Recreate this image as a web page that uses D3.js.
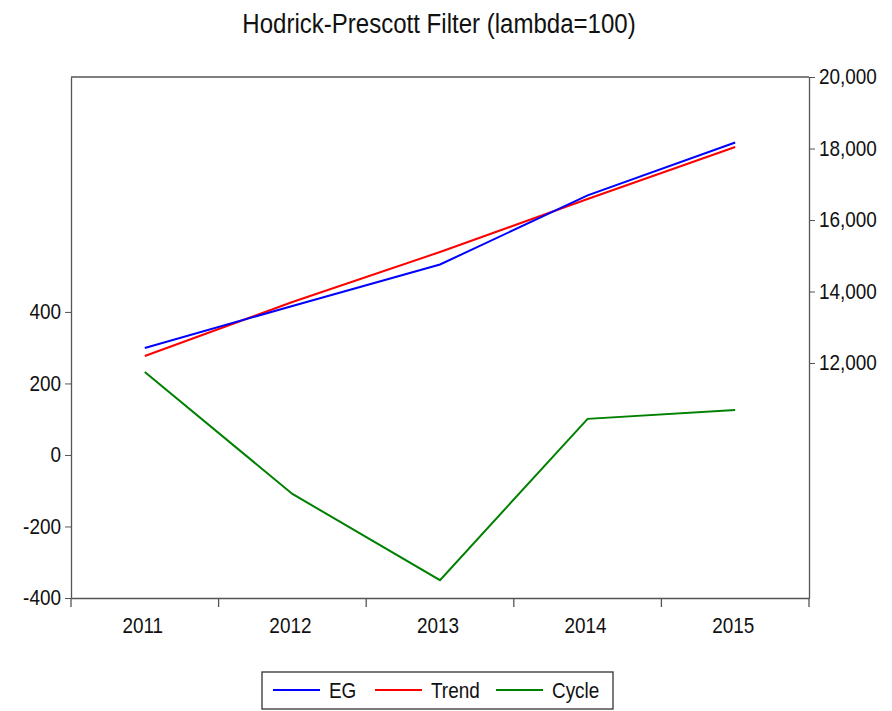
<!DOCTYPE html>
<html><head><meta charset="utf-8">
<script src="https://cdn.jsdelivr.net/npm/d3@7"></script>
<style>body{margin:0;background:#fff}svg{display:block}text{font-family:"Liberation Sans",Arial,sans-serif;fill:#111}</style>
</head><body>
<script>
const years = ["2011","2012","2013","2014","2015"];
const eg = [12420, 13597, 14755, 16688, 18168];
const trend = [12196, 13706, 15105, 16587, 18042];
const cycle = [232, -109, -350, 101, 126];
const leftTicks = [-400, -200, 0, 200, 400];
const rightTicks = [12000, 14000, 16000, 18000, 20000];
const title = "Hodrick-Prescott Filter (lambda=100)";
const legendItems = [{name:"EG",color:"#0000ff"},{name:"Trend",color:"#ff0000"},{name:"Cycle",color:"#008000"}];

const W = 892, H = 711;
const L = 71, R = 809, T = 77, B = 598;
const axisColor = "#555";
const svg = d3.select("body").append("svg").attr("width", W).attr("height", H);

const x = d3.scaleBand().domain(years).range([L, R]).padding(0);
const yL = d3.scaleLinear().domain([-400, 1057]).range([B, T]);
const yR = d3.scaleLinear().domain([5427, 20000]).range([B, T]);

// condense text horizontally like the reference
function condense(sel, k) {
  sel.each(function() {
    const w = this.getComputedTextLength();
    d3.select(this).attr("textLength", w * k).attr("lengthAdjust", "spacingAndGlyphs");
  });
}

// title
svg.append("text").attr("x", 439).attr("y", 33).attr("text-anchor", "middle")
  .style("font-size", "27px").text(title).call(condense, 0.89);

// frame top
svg.append("line").attr("x1", L).attr("x2", R).attr("y1", T).attr("y2", T).attr("stroke", axisColor).attr("stroke-width", 1.3);

const fmtL = d => String(d);
const fmtR = d3.format(",");

// left axis
const gl = svg.append("g").attr("transform", `translate(${L},0)`)
  .call(d3.axisLeft(yL).tickValues(leftTicks).tickSize(6).tickSizeOuter(0).tickFormat(fmtL));
gl.select(".domain").attr("stroke", axisColor).attr("stroke-width", 1.3);
gl.selectAll(".tick line").attr("stroke", axisColor);
gl.selectAll(".tick text").style("font-size", "22px").attr("x", -10).attr("dy", "0.3em").attr("fill", "#111").call(condense, 0.86);

// right axis
const gr = svg.append("g").attr("transform", `translate(${R},0)`)
  .call(d3.axisRight(yR).tickValues(rightTicks).tickSize(6).tickSizeOuter(0).tickFormat(fmtR));
gr.select(".domain").attr("stroke", axisColor).attr("stroke-width", 1.3);
gr.selectAll(".tick line").attr("stroke", axisColor);
gr.selectAll(".tick text").style("font-size", "22px").attr("x", 10).attr("dy", "0.3em").attr("fill", "#111").call(condense, 0.86);

// bottom axis (labels centered in bands)
const gb = svg.append("g").attr("transform", `translate(0,${B})`)
  .call(d3.axisBottom(x).tickSize(0).tickSizeOuter(0));
gb.select(".domain").attr("stroke", axisColor).attr("stroke-width", 1.3);
gb.selectAll(".tick text").style("font-size", "22px").attr("y", 35).attr("dy", 0).attr("dx", -2).attr("fill", "#111").call(condense, 0.86);
// boundary ticks
const bounds = years.map(y => x(y)).concat([x(years[years.length-1]) + x.bandwidth()]);
svg.append("g").selectAll("line").data(bounds).join("line")
  .attr("x1", d => d).attr("x2", d => d).attr("y1", B).attr("y2", B + 9)
  .attr("stroke", axisColor).attr("stroke-width", 1.3);

const cx = d => x(d) + x.bandwidth() / 2;
const lineR = d3.line().x((d, i) => cx(years[i])).y(d => yR(d));
const lineL = d3.line().x((d, i) => cx(years[i])).y(d => yL(d));

svg.append("path").datum(cycle).attr("d", lineL).attr("fill", "none").attr("stroke", "#008000").attr("stroke-width", 2);
svg.append("path").datum(trend).attr("d", lineR).attr("fill", "none").attr("stroke", "#ff0000").attr("stroke-width", 2);
svg.append("path").datum(eg).attr("d", lineR).attr("fill", "none").attr("stroke", "#0000ff").attr("stroke-width", 2);

// legend
const lg = svg.append("g");
lg.append("rect").attr("x", 262).attr("y", 672).attr("width", 351).attr("height", 37)
  .attr("fill", "#fff").attr("stroke", "#333").attr("stroke-width", 1.3);
const lx = [273, 375, 496];
legendItems.forEach((it, i) => {
  lg.append("line").attr("x1", lx[i]).attr("x2", lx[i] + 47).attr("y1", 690).attr("y2", 690)
    .attr("stroke", it.color).attr("stroke-width", 2);
  lg.append("text").attr("x", lx[i] + 56).attr("y", 690).attr("dy", "0.36em")
    .style("font-size", "22px").text(it.name).call(condense, 0.86);
});
</script>
</body></html>
